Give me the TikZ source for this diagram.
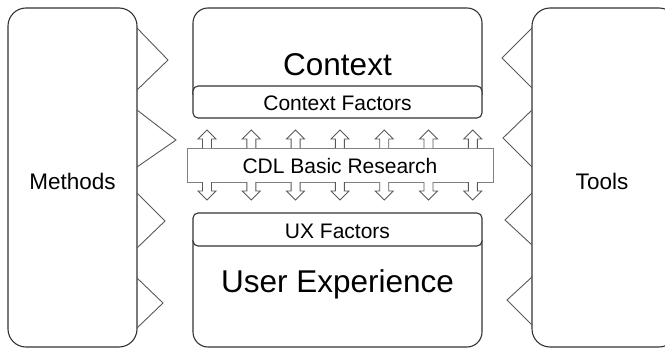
\documentclass[tikz,border=0pt]{standalone}
\usepackage{fontspec}
\setmainfont{Liberation Sans}
\begin{document}
\begin{tikzpicture}[x=1pt,y=-1pt,
  bigbox/.style={draw=black!80,line width=1.1pt,rounded corners=18pt,inner sep=0pt},
  tri/.style={draw=black!65,line width=0.9pt,line join=miter},
  factor/.style={draw=black!80,line width=1.1pt,rounded corners=5pt,inner sep=0pt,fill=white},
  cdl/.style={draw=black!50,line width=1pt,fill=white,inner sep=0pt},
  blockarrow/.style={draw=black!65,line width=0.9pt,fill=white,line join=miter},
  bigtext/.style={font=\fontsize{31.5}{31.5}\selectfont},
  midtext/.style={font=\fontsize{21}{21}\selectfont},
  sidetext/.style={font=\fontsize{22.5}{22.5}\selectfont}]
\useasboundingbox (0,0) rectangle (665,348);
\clip (0,0) rectangle (665,348);
% side boxes
\node[bigbox,minimum width=129pt,minimum height=339pt] (methods) at (72.5,177.5) {};
\node[sidetext] (methodslbl) at (72.5,181) {Methods};
\node[bigbox,minimum width=145pt,minimum height=339pt] (tools) at (604.5,177.5) {};
\node[sidetext] (toolslbl) at (602,181) {Tools};
% triangles on Methods
\draw[tri] (137,28) -- (168,60) -- (137,90);
\draw[tri] (137,110) -- (176,140) -- (137,167);
\draw[tri] (137,193) -- (165,221) -- (137,248);
\draw[tri] (137,278) -- (163,303) -- (137,328);
% triangles on Tools
\draw[tri] (532,28) -- (502,58) -- (532,88);
\draw[tri] (532,110) -- (503,138) -- (532,167);
\draw[tri] (532,193) -- (505,220) -- (532,245);
\draw[tri] (532,277) -- (507,300) -- (532,325);
% Context box
\draw[draw=black!80,line width=1.1pt,rounded corners=15pt] (193,95) -- (193,8) -- (482,8) -- (482,95);
\node[factor,minimum width=289pt,minimum height=32pt] (cfactors) at (337.5,102) {};
\node[midtext] (cfactorslbl) at (337.5,103) {Context Factors};
\node[bigtext] (context) at (337.5,65) {Context};
% UX box
\draw[draw=black!80,line width=1.1pt,rounded corners=15pt] (193,240) -- (193,347) -- (482,347) -- (482,240);
\node[factor,minimum width=289pt,minimum height=33pt] (uxfactors) at (337.5,229.5) {};
\node[midtext] (uxfactorslbl) at (337.5,231) {UX Factors};
\node[bigtext] (ux) at (337.5,284) {User Experience};
% CDL basic research
\node[cdl,minimum width=306pt,minimum height=34pt] (cdlbox) at (340,165) {};
\node[midtext] (cdllbl) at (340,165.5) {CDL Basic Research};
% block arrows
\foreach \i in {0,...,6}{
  \pgfmathsetmacro{\ax}{207+44.3*\i}
  \draw[blockarrow] (\ax-4.5,148) -- (\ax-4.5,139) -- (\ax-9,139) -- (\ax,130) -- (\ax+9,139) -- (\ax+4.5,139) -- (\ax+4.5,148);
  \draw[blockarrow] (\ax-4.5,182) -- (\ax-4.5,191) -- (\ax-9,191) -- (\ax,200) -- (\ax+9,191) -- (\ax+4.5,191) -- (\ax+4.5,182);
}
\end{tikzpicture}
\end{document}
